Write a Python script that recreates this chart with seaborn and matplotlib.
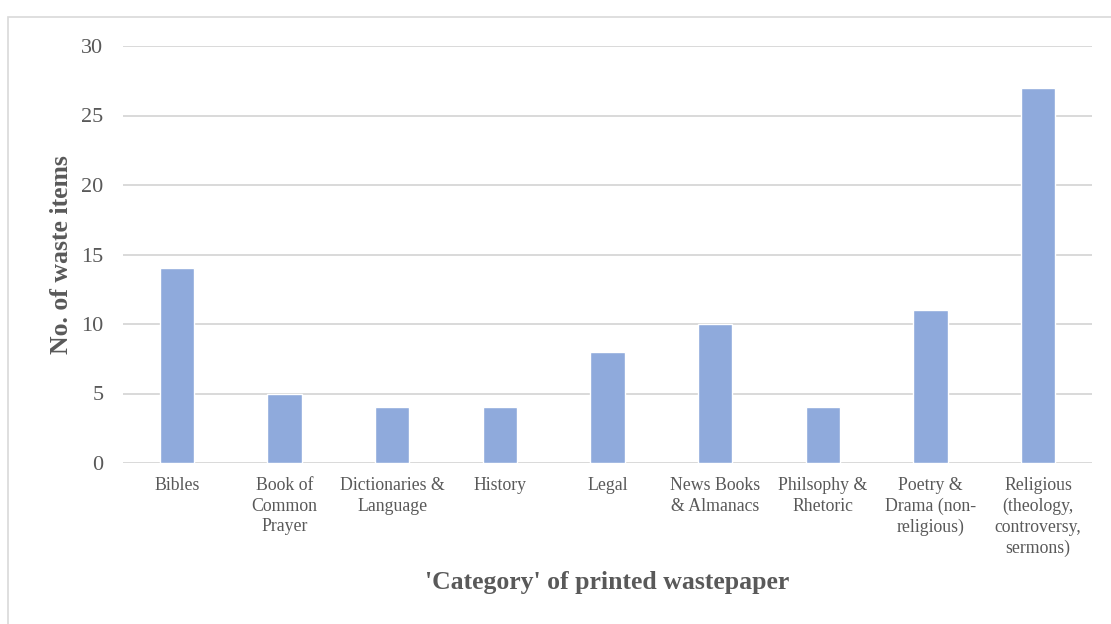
import matplotlib
matplotlib.use("Agg")
import matplotlib.pyplot as plt
import pandas as pd
import seaborn as sns
from matplotlib.patches import Rectangle

categories = [
    "Bibles",
    "Book of\nCommon\nPrayer",
    "Dictionaries &\nLanguage",
    "History",
    "Legal",
    "News Books\n& Almanacs",
    "Philsophy &\nRhetoric",
    "Poetry &\nDrama (non-\nreligious)",
    "Religious\n(theology,\ncontroversy,\nsermons)",
]
counts = [14, 5, 4, 4, 8, 10, 4, 11, 27]
y_ticks = [0, 5, 10, 15, 20, 25, 30]

df = pd.DataFrame({"category": categories, "count": counts})

sns.set_theme(style="white")
plt.rcParams["font.family"] = ["Liberation Serif", "DejaVu Serif"]

text_col = "#595959"
grid_col = "#D9D9D9"

fig = plt.figure(figsize=(11.11, 6.24), dpi=100)
# chart frame (only left/top edges visible in the crop)
fig.patches.append(Rectangle((8 / 1111, -0.1), 1.2, (624 - 17) / 624 + 0.1,
                             transform=fig.transFigure, fill=False,
                             edgecolor="#D9D9D9", lw=1.2))

ax = fig.add_axes([123 / 1111, 161 / 624, (1092 - 123) / 1111, (463 - 46) / 624])
sns.barplot(data=df, x="category", y="count", color="#8FAADC", width=0.32,
            saturation=1, ax=ax, zorder=3)

ax.set_ylim(0, 30)
ax.set_yticks(y_ticks)
ax.set_xlim(-0.5, len(categories) - 0.5)
for y in y_ticks:
    ax.axhline(y, color=grid_col, lw=1.4, zorder=1)
for s in ax.spines.values():
    s.set_visible(False)
ax.tick_params(axis="both", length=0)
ax.tick_params(axis="y", labelsize=16, labelcolor=text_col, pad=14)
ax.tick_params(axis="x", labelsize=12.8, labelcolor=text_col, pad=10)
for lbl in ax.get_xticklabels():
    lbl.set_linespacing(1.28)
    lbl.set_va("top")

ax.set_xlabel("'Category' of printed wastepaper", fontsize=18.5, fontweight="bold",
              color=text_col)
ax.xaxis.set_label_coords(0.5, -0.26)
ax.set_ylabel("No. of waste items", fontsize=18.5, fontweight="bold", color=text_col)
ax.yaxis.set_label_coords(-0.052, 0.5)

fig.savefig("out.png", dpi=100, facecolor="white")
